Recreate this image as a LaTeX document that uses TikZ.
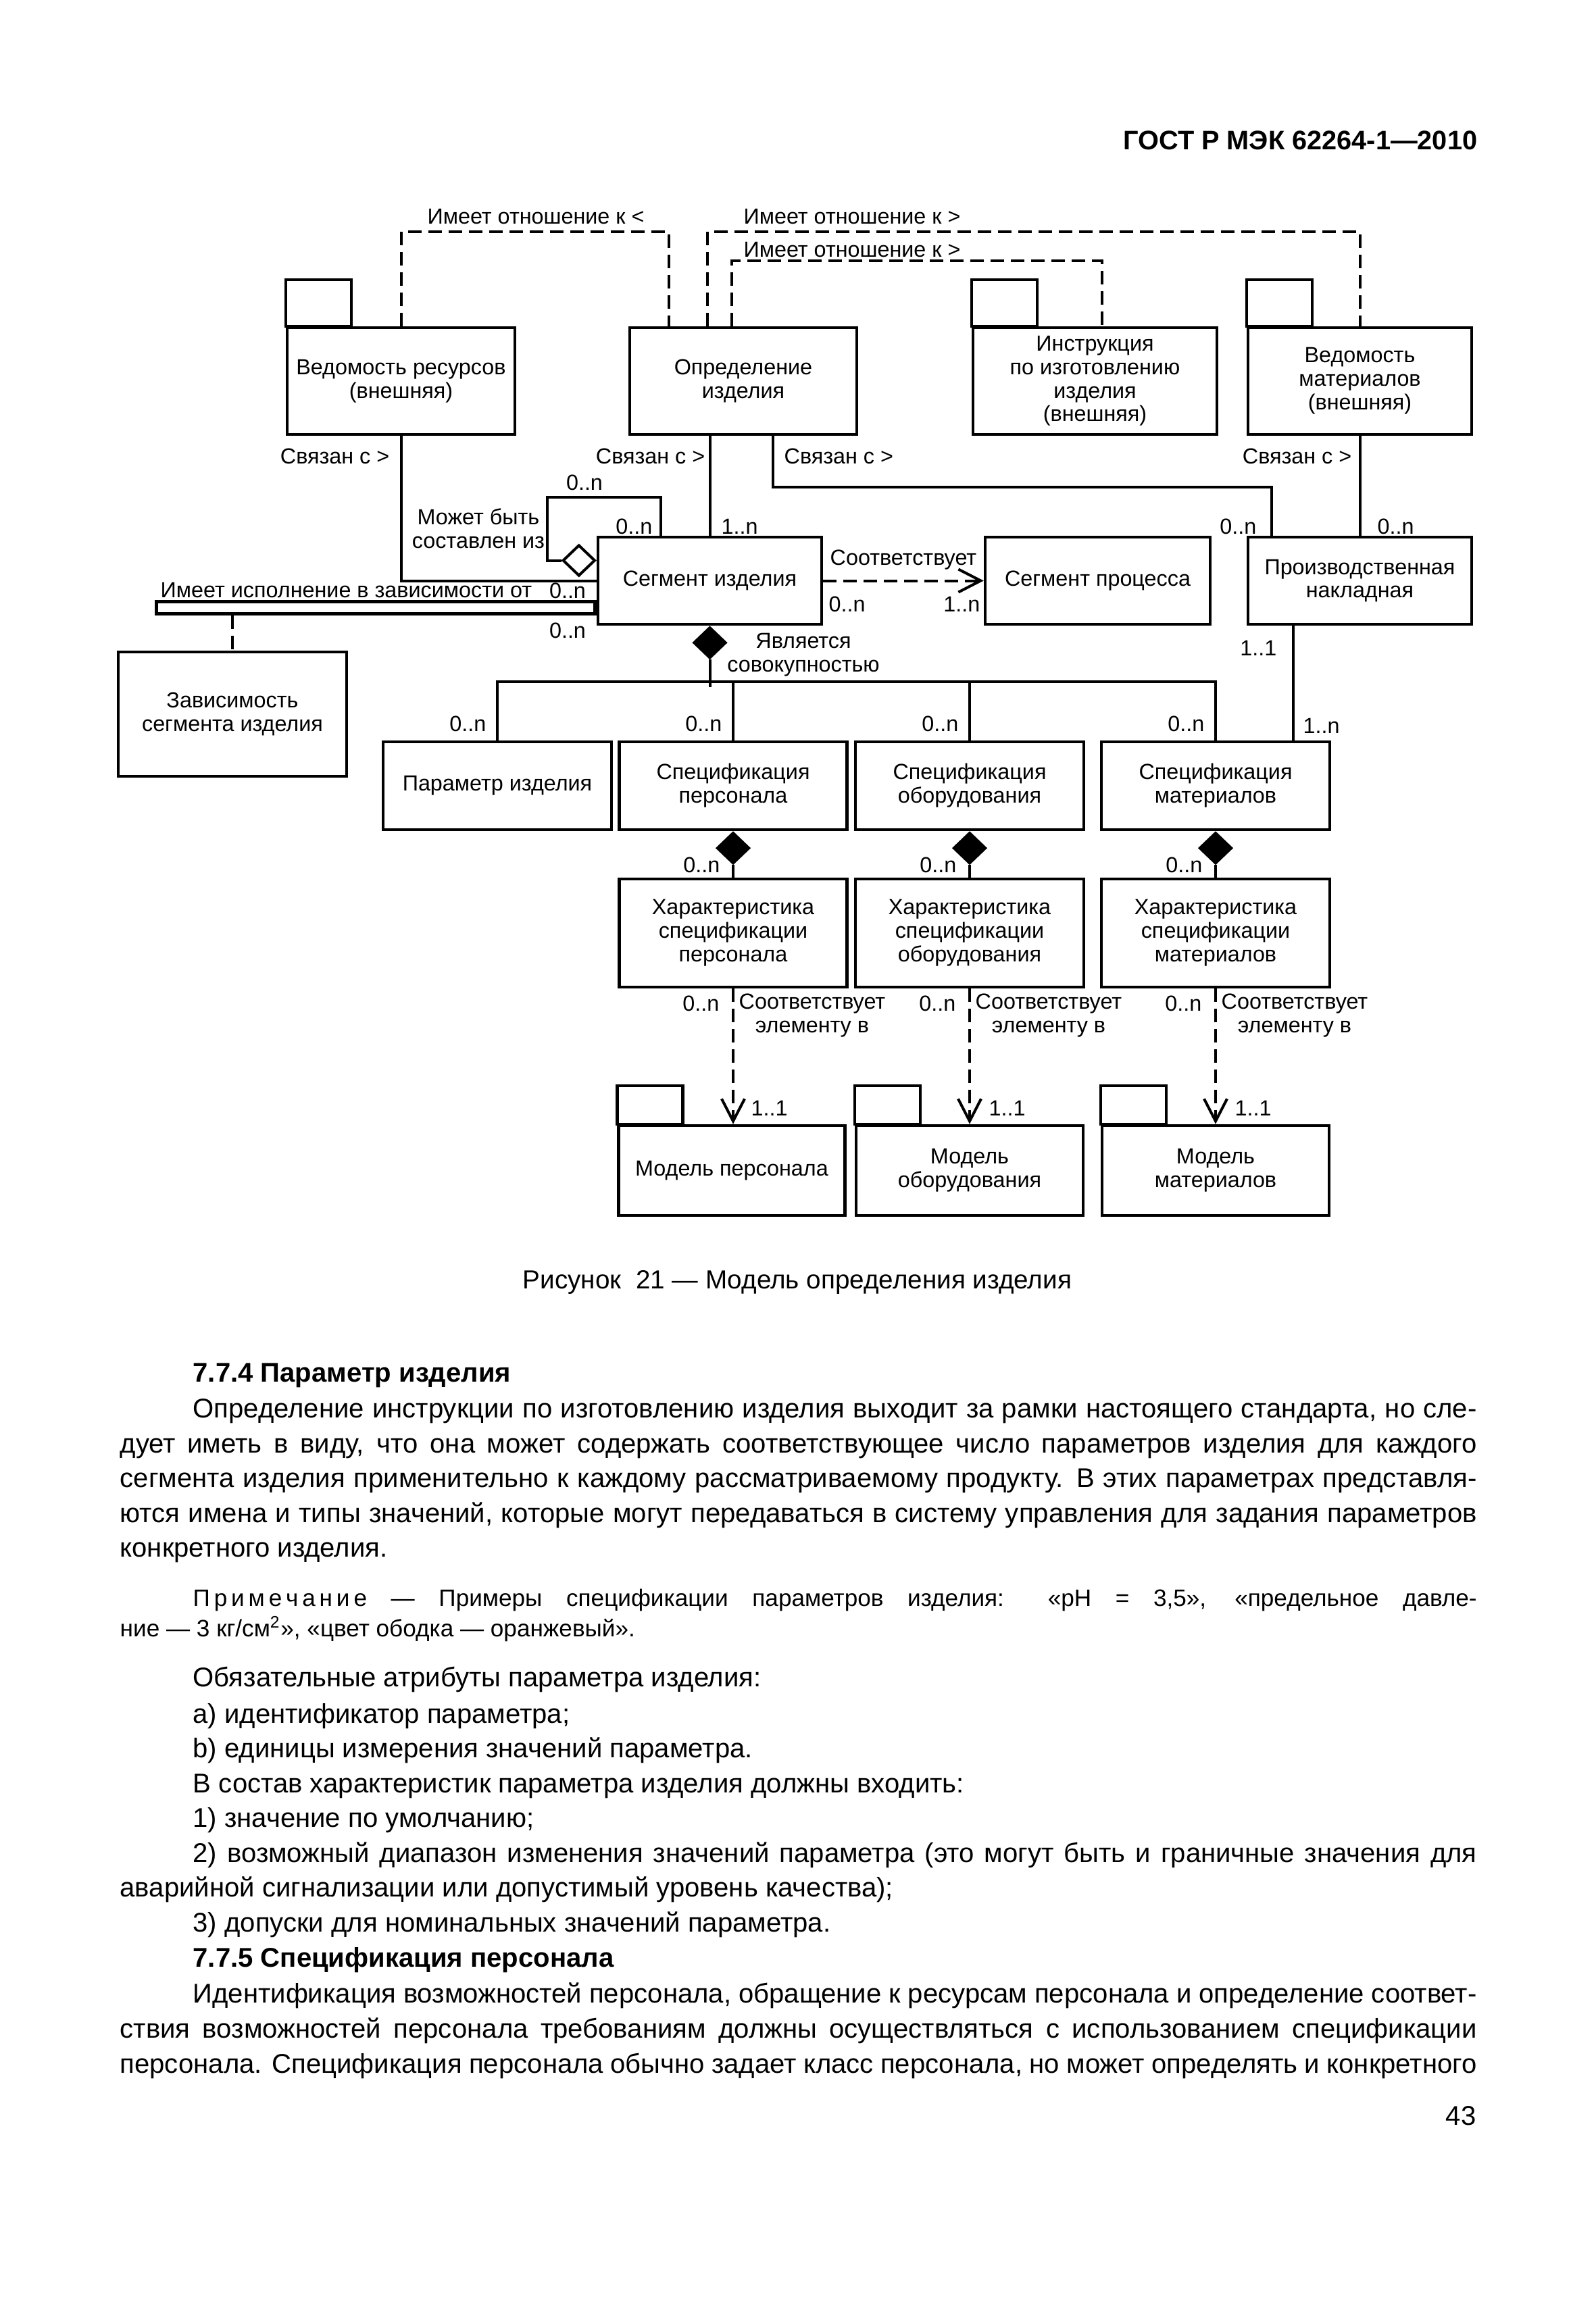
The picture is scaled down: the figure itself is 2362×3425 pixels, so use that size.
\documentclass[tikz,border=0pt]{standalone}
\usepackage{fontspec}
\setmainfont{Liberation Sans}
\usetikzlibrary{positioning,shapes.geometric,arrows.meta}

\newcommand{\dfont}{\fontsize{9.2}{9.9}\selectfont}
\newcommand{\bfont}{\fontsize{11.4}{14.6}\selectfont}
\newcommand{\nfont}{\fontsize{10}{12.5}\selectfont}
\newcommand{\pkgtab}[2]{\draw[line width=0.45mm] (#1.north west) rectangle ++(9.7mm,#2);}

\tikzset{
  cls/.style={draw, line width=0.45mm, align=center, inner sep=0pt, font=\dfont},
  lbl/.style={inner sep=0pt, font=\dfont},
  conn/.style={line width=0.4mm},
  rel/.style={line width=0.4mm, dash pattern=on 2mm off 1mm},
  vee/.style={-{Straight Barb[length=3.3mm, width=3.4mm, line width=0.4mm]}},
  fdiam/.style={diamond, draw, fill=black, line width=0.4mm, inner sep=0pt,
    minimum width=4.8mm, minimum height=4.6mm},
  hdiam/.style={fdiam, fill=white},
  ptxt/.style={inner sep=0pt, anchor=base west, font=\bfont},
}

\begin{document}
\begin{tikzpicture}[x=0.1mm, y=-0.1mm]
  %%%%% PAGE %%%%%
  \fill[white] (0,0) rectangle (2362,3425);
  \useasboundingbox (0,0) rectangle (2362,3425);

  \node[inner sep=0pt, anchor=base east, font=\fontsize{11.3}{13}\selectfont\bfseries] (hdr) at (2187,221) {ГОСТ Р МЭК 62264-1—2010};

  %%%%% TOP ROW %%%%%
  \node[cls, minimum width=33.7mm, minimum height=15.8mm] (res) at (593.5,564) {Ведомость ресурсов\\(внешняя)};
  \node[cls, minimum width=33.6mm, minimum height=15.8mm] (def) at (1100,564) {Определение\\изделия};
  \node[cls, minimum width=36.1mm, minimum height=15.8mm] (instr) at (1620.5,564) {Инструкция\\по изготовлению\\изделия\\(внешняя)};
  \node[cls, minimum width=33.1mm, minimum height=15.8mm] (bom) at (2012.5,564) {Ведомость\\материалов\\(внешняя)};
  \pkgtab{res}{6.9mm}
  \pkgtab{instr}{6.9mm}
  \pkgtab{bom}{6.9mm}

  %%%%% MIDDLE ROW %%%%%
  \node[cls, minimum width=33.1mm, minimum height=12.9mm] (seg) at (1050.5,859.5) {Сегмент изделия};
  \node[cls, minimum width=33.3mm, minimum height=12.9mm] (proc) at (1624.5,859.5) {Сегмент процесса};
  \node[cls, minimum width=33.1mm, minimum height=12.9mm] (bill) at (2012.5,859.5) {Производственная\\накладная};
  \node[cls, minimum width=33.8mm, minimum height=18.4mm] (dep) at (344,1057) {Зависимость\\сегмента изделия};

  %%%%% SPECIFICATIONS %%%%%
  \node[cls, minimum width=33.8mm, minimum height=13mm] (par) at (736,1163) {Параметр изделия};
  \node[cls, minimum width=33.7mm, minimum height=13mm] (sp) at (1085,1163) {Спецификация\\персонала};
  \node[cls, minimum width=33.8mm, minimum height=13mm] (se) at (1435,1163) {Спецификация\\оборудования};
  \node[cls, minimum width=33.8mm, minimum height=13mm] (sm) at (1799,1163) {Спецификация\\материалов};

  \node[cls, minimum width=33.7mm, minimum height=16mm] (cp) at (1085,1381) {Характеристика\\спецификации\\персонала};
  \node[cls, minimum width=33.8mm, minimum height=16mm] (ce) at (1435,1381) {Характеристика\\спецификации\\оборудования};
  \node[cls, minimum width=33.8mm, minimum height=16mm] (cm) at (1799,1381) {Характеристика\\спецификации\\материалов};

  \node[cls, minimum width=33.5mm, minimum height=13.3mm] (mp) at (1083,1732.5) {Модель персонала};
  \node[cls, minimum width=33.6mm, minimum height=13.3mm] (me) at (1435,1732.5) {Модель\\оборудования};
  \node[cls, minimum width=33.6mm, minimum height=13.3mm] (mm) at (1799,1732.5) {Модель\\материалов};
  \pkgtab{mp}{5.7mm}
  \pkgtab{me}{5.7mm}
  \pkgtab{mm}{5.7mm}

  %%%%% RELATIONS %%%%%
  \draw[rel] (res.north) -- ++(0,-140) -| ([xshift=6mm]def.north west);
  \draw[rel] ([xshift=11.7mm]def.north west) -- ++(0,-140) -| (bom.north);
  \draw[rel] ([xshift=15.3mm]def.north west) -- ++(0,-97) -| ([xshift=1mm]instr.north);
  \node[lbl] (rel1) at (793,321) {Имеет отношение к <};
  \node[lbl] (rel2) at (1261,321) {Имеет отношение к >};
  \node[lbl] (rel3) at (1261,370) {Имеет отношение к >};

  \draw[conn] (res.south) |- (seg.west);
  \draw[conn] (def.south -| seg.north) -- (seg.north);
  \draw[conn] ([xshift=21.4mm]def.south west) -- ++(0,76) -| ([xshift=3.7mm]bill.north west);
  \draw[conn] (bom) -- (bill);
  \node[lbl, anchor=east] (lnk1) at (577,675) {Связан с >};
  \node[lbl, anchor=east] (lnk2) at (1044,675) {Связан с >};
  \node[lbl, anchor=west] (lnk3) at (1160,675) {Связан с >};
  \node[lbl, anchor=east] (lnk4) at (2001,675) {Связан с >};
  \node[lbl] (m1) at (840,874) {0..n};
  \node[lbl, anchor=west] (m5) at (1067,779) {1..n};
  \node[lbl, anchor=east] (m6) at (1860,779) {0..n};
  \node[lbl, anchor=west] (m7) at (2038,779) {0..n};

  % self loop
  \node[hdiam, anchor=east] (dloop) at ([yshift=3mm]seg.west) {};
  \draw[conn] ([xshift=9.5mm]seg.north west) -- ++(0,-57) -- ++(-168,0) |- (dloop.west);
  \node[lbl] (m3) at (865,714) {0..n};
  \node[lbl, anchor=east] (m4) at (966,779) {0..n};
  \node[lbl, align=center] (comp) at (708,782) {Может быть\\составлен из};

  % process segment
  \draw[rel, vee] (seg) -- (proc);
  \node[lbl] (corr) at (1337,829) {Соответствует};
  \node[lbl, anchor=west] (m8) at (1226,894) {0..n};
  \node[lbl, anchor=east] (m9) at (1451,894) {1..n};

  % dependency bar
  \node[draw, line width=0.45mm, inner sep=0pt, minimum width=64.9mm, minimum height=1.8mm, anchor=east] (bar) at ([yshift=-4mm]seg.west) {};
  \draw[rel] (bar.south -| dep.north) -- (dep.north);
  \node[lbl, anchor=base west] (lbar) at (237,884) {Имеет исполнение в зависимости от};
  \node[lbl] (m2) at (840,933) {0..n};

  %%%%% AGGREGATION %%%%%
  \node[fdiam, anchor=north] (dseg) at (seg.south) {};
  \draw[conn] (dseg.south) -- ++(0,41);
  \draw[conn] (par.north) -- ++(0,-87) -| (sm.north);
  \draw[conn] (sp.north) -- ++(0,-87);
  \draw[conn] (se.north) -- ++(0,-87);
  \node[lbl, align=center] (agg) at (1189,969) {Является\\совокупностью};
  \node[lbl, anchor=east] (kpar) at ([xshift=-1.6mm, yshift=2.4mm]par.north) {0..n};

  \draw[conn] ([xshift=-5.6mm]sm.north east) -- ++(0,-174);
  \node[lbl, anchor=east] (m10) at (1890,959) {1..1};
  \node[lbl, anchor=west] (m11) at (1928,1074) {1..n};

  \foreach \c in {p,e,m}{
    \node[lbl, anchor=east] (k\c) at ([xshift=-1.6mm, yshift=2.4mm]s\c.north) {0..n};
    \node[fdiam, anchor=north] (d\c) at (s\c.south) {};
    \draw[conn] (d\c) -- (c\c);
    \node[lbl, anchor=east] (n\c) at ([xshift=-1.9mm, yshift=1.8mm]c\c.north) {0..n};
    \draw[rel, vee] (c\c.south) -- (c\c.south |- m\c.north);
    \node[lbl, anchor=east] (j\c) at ([xshift=-2mm, yshift=-2.2mm]c\c.south) {0..n};
    \node[lbl, align=center] (t\c) at ([xshift=11.7mm, yshift=-4mm]c\c.south) {Соответствует\\элементу в};
    \node[lbl, anchor=west] (u\c) at ([xshift=2.8mm, yshift=2.3mm]m\c.north) {1..1};
  }

  %%%%% TEXT %%%%%
  \node[inner sep=0pt, anchor=base, font=\fontsize{11}{13}\selectfont] (cap) at (1180,1907) {Рисунок\ \ 21 — Модель определения изделия};

  \node[ptxt, font=\bfont\bfseries] (h1) at (285,2045) {7.7.4 Параметр изделия};
  \node[ptxt] (p1a) at (285,2098) {\makebox[190mm][s]{Определение инструкции по изготовлению изделия выходит за рамки настоящего стандарта, но сле-}};
  \node[ptxt] (p1b) at (177,2150) {\makebox[200.8mm][s]{дует иметь в виду, что она может содержать соответствующее число параметров изделия для каждого}};
  \node[ptxt] (p1c) at (177,2201) {\makebox[200.8mm][s]{сегмента изделия применительно к каждому рассматриваемому продукту. В этих параметрах представля-}};
  \node[ptxt] (p1d) at (177,2253) {\makebox[200.8mm][s]{ются имена и типы значений, которые могут передаваться в систему управления для задания параметров}};
  \node[ptxt] (p1e) at (177,2304) {конкретного изделия.};

  \node[ptxt, font=\nfont] (n1) at (285,2377) {\makebox[190mm][s]{П\,р\,и\,м\,е\,ч\,а\,н\,и\,е — Примеры спецификации параметров изделия: «pH = 3,5», «предельное давле-}};
  \node[ptxt, font=\nfont] (n2) at (177,2422) {ние — 3 кг/см\textsuperscript{2}», «цвет ободка — оранжевый».};

  \node[ptxt] (l1) at (285,2496) {Обязательные атрибуты параметра изделия:};
  \node[ptxt] (l2) at (285,2550) {a) идентификатор параметра;};
  \node[ptxt] (l3) at (285,2601) {b) единицы измерения значений параметра.};
  \node[ptxt] (l4) at (285,2653) {В состав характеристик параметра изделия должны входить:};
  \node[ptxt] (l5) at (285,2704) {1) значение по умолчанию;};
  \node[ptxt] (l6) at (285,2756) {\makebox[190mm][s]{2) возможный диапазон изменения значений параметра (это могут быть и граничные значения для}};
  \node[ptxt] (l7) at (177,2807) {аварийной сигнализации или допустимый уровень качества);};
  \node[ptxt] (l8) at (285,2859) {3) допуски для номинальных значений параметра.};

  \node[ptxt, font=\bfont\bfseries] (h2) at (285,2911) {7.7.5 Спецификация персонала};
  \node[ptxt] (q1) at (285,2964) {\makebox[190mm][s]{Идентификация возможностей персонала, обращение к ресурсам персонала и определение соответ-}};
  \node[ptxt] (q2) at (177,3016) {\makebox[200.8mm][s]{ствия возможностей персонала требованиям должны осуществляться с использованием спецификации}};
  \node[ptxt] (q3) at (177,3068) {\makebox[200.8mm][s]{персонала. Спецификация персонала обычно задает класс персонала, но может определять и конкретного}};

  \node[inner sep=0pt, anchor=base east, font=\bfont] (pg) at (2185,3145) {43};
  %%%%% END %%%%%
\end{tikzpicture}
\end{document}
